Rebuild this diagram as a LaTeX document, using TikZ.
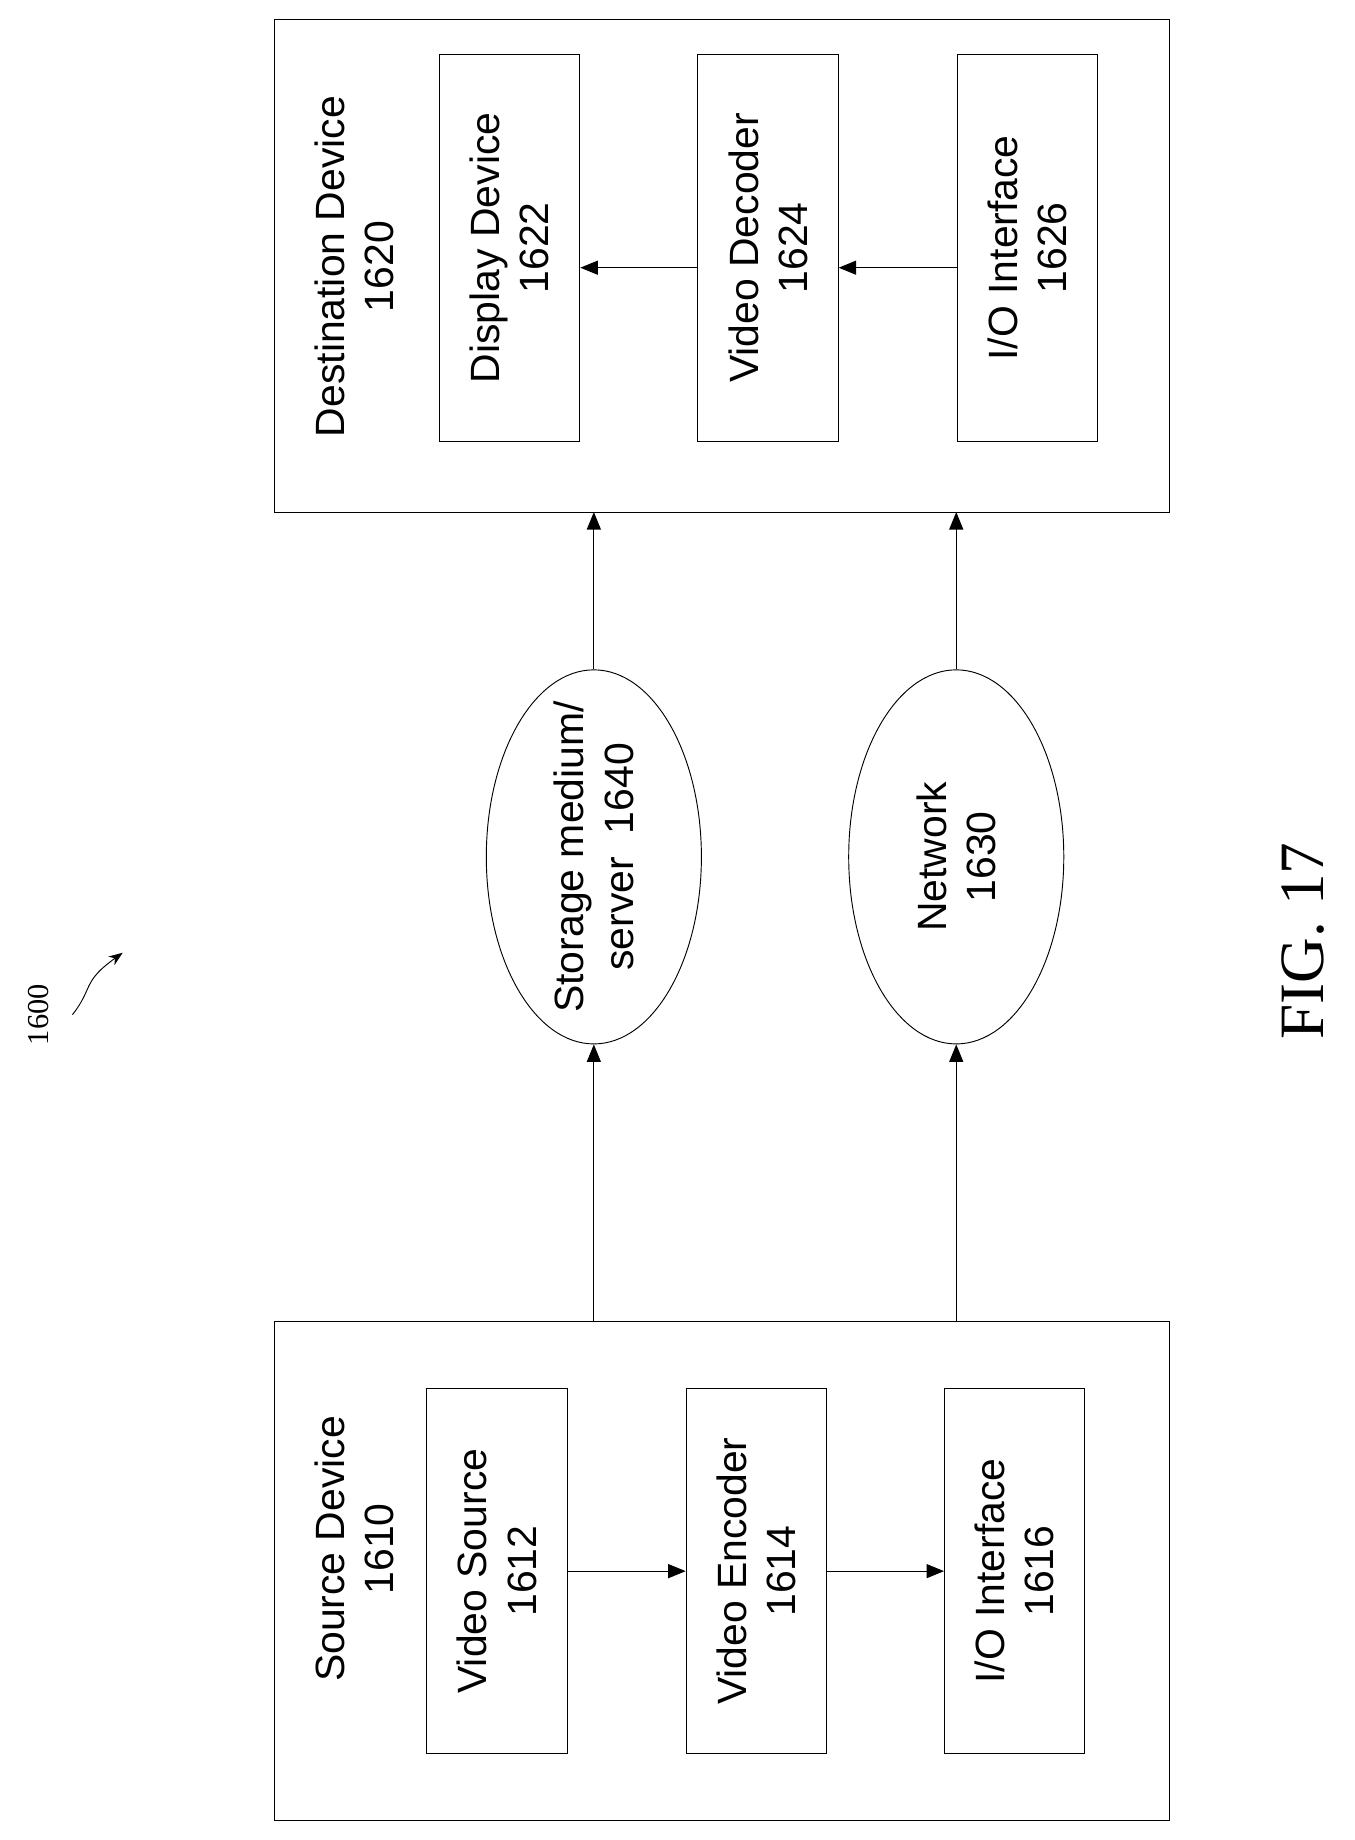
\documentclass[tikz,border=0pt]{standalone}
\usepackage{fontspec}
\setmainfont{Liberation Sans}
\newfontfamily\figfont{Liberation Serif}
\usetikzlibrary{shapes.geometric,arrows.meta}
\tikzset{
  txt/.style={rotate=90,align=center,font=\fontsize{35}{42}\selectfont},
  boite/.style={draw,line width=0.8pt,txt,minimum width=312pt,minimum height=120pt},
  bulle/.style={draw,ellipse,line width=0.8pt,minimum width=184pt,minimum height=320pt},
  fl/.style={line width=1pt,-{Triangle[length=15pt,width=12pt]}},
}
\begin{document}
\begin{tikzpicture}[x=1pt,y=-1pt]
\useasboundingbox (0,0) rectangle (1159,1574);
% source
\draw[line width=0.8pt] (235,1130) rectangle (1000,1557);
\node[txt] (src) at (303,1325) {Source Device\\1610};
\node[boite] (vs) at (425,1344) {Video Source\\1612};
\node[boite] (ve) at (647,1344) {Video Encoder\\1614};
\node[boite] (si) at (868,1344) {I/O Interface\\1616};
\draw[fl] (vs) -- (ve);
\draw[fl] (ve) -- (si);
% destination
\draw[line width=0.8pt] (235,17) rectangle (1000,438);
\node[txt] (dst) at (303,228) {Destination Device\\1620};
\node[boite,minimum width=331pt] (dd) at (436,212) {Display Device\\1622};
\node[boite,minimum width=331pt] (vd) at (657,212) {Video Decoder\\1624};
\node[boite,minimum width=331pt] (di) at (879,212) {I/O Interface\\1626};
\coordinate (ar) at (0,229);
\draw[fl] (vd.north |- ar) -- (dd.south |- ar);
\draw[fl] (di.north |- ar) -- (vd.south |- ar);
% milieu
\node[bulle] (sto) at (508,733) {};
\node[txt] at (sto) {Storage medium/\\server\ \ 1640};
\node[bulle] (net) at (818,733) {};
\node[txt] at (net) {Network\\1630};
\coordinate (s1) at (508,1130); \coordinate (s2) at (818,1130);
\coordinate (d1) at (508,438); \coordinate (d2) at (818,438);
\draw[fl] (s1) -- (sto.south);
\draw[fl] (sto.north) -- (d1);
\draw[fl] (s2) -- (net.south);
\draw[fl] (net.north) -- (d2);
% legende
\node[rotate=90,font=\figfont\fontsize{26}{30}\selectfont] (num) at (33,868) {1600};
\coordinate (pt) at (105,815);
\draw[line width=0.8pt,-{Stealth[length=12pt]}] (62,868) .. controls (80,845) and (70,840) .. (pt);
\node[rotate=90,font=\figfont\fontsize{54}{58}\selectfont] (fig) at (1115,805) {FIG. 17};
\end{tikzpicture}
\end{document}
